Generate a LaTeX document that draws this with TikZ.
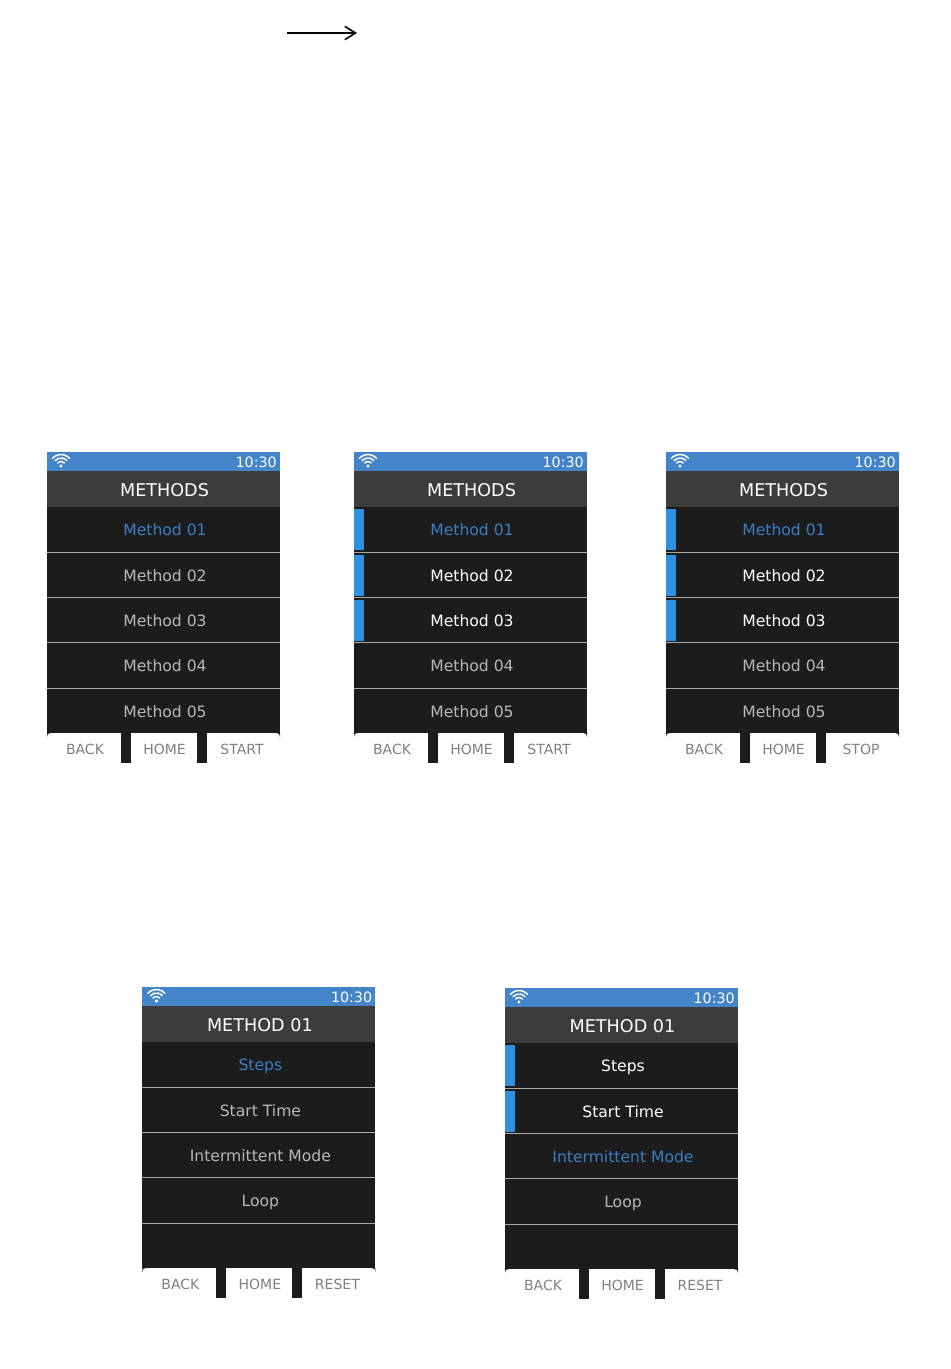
\documentclass[tikz,border=0pt]{standalone}
\usepackage{fontspec}
\setmainfont{DejaVu Sans}
\usetikzlibrary{arrows.meta}
\definecolor{barblue}{HTML}{4484C8}
\definecolor{headgrey}{HTML}{3C3C3C}
\definecolor{bodydark}{HTML}{1C1C1C}
\definecolor{markblue}{HTML}{3090E0}
\definecolor{textblue}{HTML}{3C7EC4}
\definecolor{textgrey}{HTML}{B8B8B8}
\definecolor{rulegrey}{HTML}{A8A8A8}
\definecolor{keygrey}{HTML}{808080}
\tikzset{
  rowtext/.style={inner sep=0pt, text height=10pt, text depth=0pt, font=\fontsize{11.7}{14}\selectfont},
  titletext/.style={inner sep=0pt, text=white, text height=9.6pt, text depth=0pt, font=\fontsize{13.2}{15}\selectfont},
  timetext/.style={inner sep=0pt, text=white, text height=7.8pt, text depth=0pt, font=\fontsize{10.7}{12}\selectfont},
  keytext/.style={inner sep=0pt, text=keygrey, text height=7.6pt, text depth=0pt, font=\fontsize{10.5}{12}\selectfont},
  wifiline/.style={draw=white, line width=1.1pt, line cap=round},
}
% #1 name, #2 x, #3 y, #4 title, #5 third key, #6 rows: number/text/colour/marker
\newcommand{\phonescreen}[6]{
  \begin{scope}[shift={(#2,#3)}]
    \fill[bodydark] (0,55) rectangle (233,311);
    \fill[barblue] (0,0) rectangle (233,19);
    \fill[headgrey] (0,19) rectangle (233,55);
    \foreach \ruley in {100,145,190,236}
      \draw[rulegrey, line width=0.7pt] (0,\ruley) -- (233,\ruley);
    \fill[white] (0,281) rectangle (74,312);
    \fill[white] (84,281) rectangle (150,312);
    \fill[white] (160,281) rectangle (233,312);
    \fill[bodydark] (0,281) -- (4,281) .. controls (1,281) and (0,282) .. (0,285) -- cycle;
    \fill[bodydark] (233,281) -- (229,281) .. controls (232,281) and (233,282) .. (233,285) -- cycle;
    \fill[white] (14,14) circle (1.7);
    \draw[wifiline] (14,14) ++(222:4.5) arc (222:318:4.5);
    \draw[wifiline] (14,14) ++(222:8) arc (222:318:8);
    \draw[wifiline] (14,14) ++(222:11.5) arc (222:318:11.5);
    \node[timetext, anchor=east] (#1-time) at (230,10) {10:30};
    \node[titletext] (#1-title) at (117.5,38) {#4};
    \foreach \rowidx/\rowtext/\rowtint/\rowmark in {#6} {
      \pgfmathsetmacro{\rowy}{\rowidx==1 ? 77 : (\rowidx==2 ? 123 : (\rowidx==3 ? 168 : (\rowidx==4 ? 213 : 259)))}
      \node[rowtext, text=\rowtint] (#1-row\rowidx) at (118,\rowy) {\rowtext};
      \ifnum\rowmark=1
        \fill[markblue] (0,\rowy-20.5) rectangle (10,\rowy+20.5);
      \fi
    }
    \node[keytext] (#1-back) at (38,297) {BACK};
    \node[keytext] (#1-home) at (117.5,297) {HOME};
    \node[keytext] (#1-third) at (195,297) {#5};
  \end{scope}
}
\begin{document}
\begin{tikzpicture}[x=0.75pt, y=-0.75pt]
  \useasboundingbox (0,0) rectangle (950,1369);
  \coordinate (arrowstart) at (287,33);
  \coordinate (arrowend) at (357,33);
  \draw[line width=1.2pt, -{Straight Barb[length=8pt, width=10pt, line width=1.2pt]}] (arrowstart) -- (arrowend);
  \phonescreen{listone}{47}{452}{METHODS}{START}{1/Method 01/textblue/0, 2/Method 02/textgrey/0, 3/Method 03/textgrey/0, 4/Method 04/textgrey/0, 5/Method 05/textgrey/0}
  \phonescreen{listtwo}{354}{452}{METHODS}{START}{1/Method 01/textblue/1, 2/Method 02/white/1, 3/Method 03/white/1, 4/Method 04/textgrey/0, 5/Method 05/textgrey/0}
  \phonescreen{listthree}{666}{452}{METHODS}{STOP}{1/Method 01/textblue/1, 2/Method 02/white/1, 3/Method 03/white/1, 4/Method 04/textgrey/0, 5/Method 05/textgrey/0}
  \phonescreen{stepsone}{142.4}{987}{METHOD 01}{RESET}{1/Steps/textblue/0, 2/Start Time/textgrey/0, 3/Intermittent Mode/textgrey/0, 4/Loop/textgrey/0}
  \phonescreen{stepstwo}{505}{988}{METHOD 01}{RESET}{1/Steps/white/1, 2/Start Time/white/1, 3/Intermittent Mode/textblue/0, 4/Loop/textgrey/0}
\end{tikzpicture}
\end{document}
